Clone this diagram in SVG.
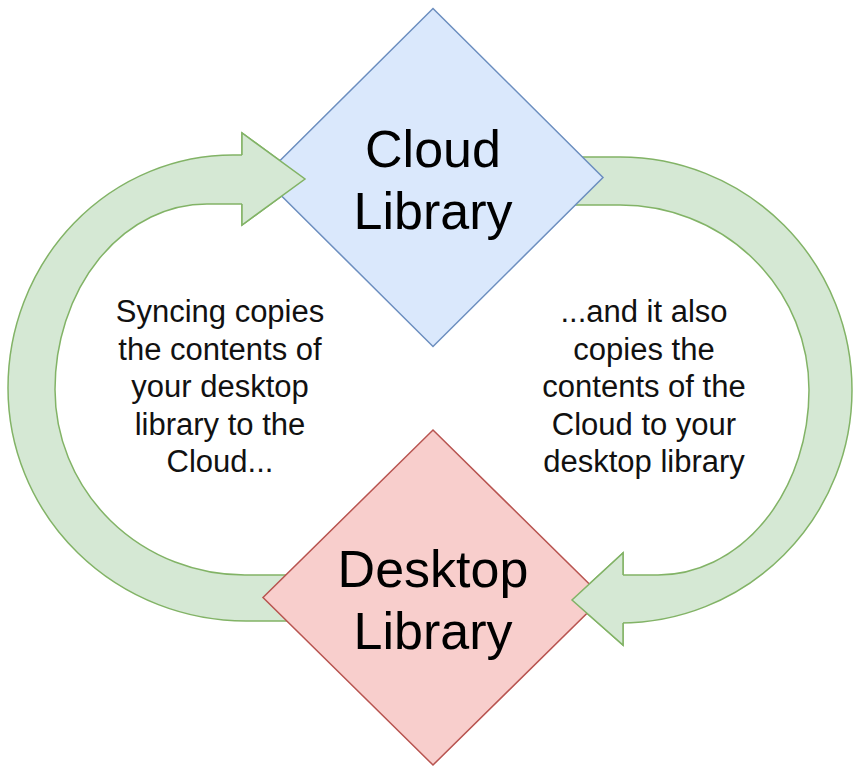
<svg xmlns="http://www.w3.org/2000/svg" width="854" height="768" viewBox="0 0 854 768">
  <style>
    .arrow { fill: #d5e8d4; stroke: #82b366; stroke-width: 1.5; stroke-linejoin: miter; }
    .cloud { fill: #dae8fc; stroke: #6c8ebf; stroke-width: 1.5; }
    .desk { fill: #f8cecc; stroke: #b85450; stroke-width: 1.5; }
    .big { font-family: "Liberation Sans", Arial, Helvetica, sans-serif; font-size: 52px; fill: #000; text-anchor: middle; }
    .note { font-family: "Liberation Sans", Arial, Helvetica, sans-serif; font-size: 31px; fill: #111; text-anchor: middle; }
  </style>
  <rect width="854" height="768" fill="#ffffff"/>
  <g id="connectors">
    <path id="arrow-desktop-to-cloud" class="arrow" d="M300,621 L246,621 A238,233 0 0 1 8,388 A225,233 0 0 1 233,155 L242,155 L242,133 L305,179 L242,225 L242,204 L207,204 A152,185.5 0 0 0 55,389.5 A190,185.5 0 0 0 245,575 L300,575 Z"/>
    <path id="arrow-cloud-to-desktop" class="arrow" d="M560,157 L620,157 A232,233 0 0 1 852,390 A232,233 0 0 1 620,623 L623,623 L623,645 L572,600 L623,553 L623,575 L658,575 A151,185 0 0 0 809,390 A189,185 0 0 0 620,205 L560,205 Z"/>
  </g>
  <g id="node-cloud-library">
    <polygon class="cloud" points="433,8.5 603,177.5 433,346.5 263,177.5"/>
    <text class="big" x="433" y="167">Cloud</text>
    <text class="big" x="433" y="229">Library</text>
  </g>
  <g id="node-desktop-library">
    <polygon class="desk" points="433,430 603,597.5 433,765 263,597.5"/>
    <text class="big" x="433" y="587">Desktop</text>
    <text class="big" x="433" y="649">Library</text>
  </g>
  <g id="connector-heads">
    <path class="arrow" d="M242,155 L242,133 L305,179 L242,225 L242,204"/>
    <path class="arrow" d="M623,575 L623,553 L572,600 L623,645 L623,623"/>
  </g>
  <g id="label-left">
    <text class="note" x="220" y="322">Syncing copies</text>
    <text class="note" x="220" y="359.5">the contents of</text>
    <text class="note" x="220" y="397">your desktop</text>
    <text class="note" x="220" y="434.5">library to the</text>
    <text class="note" x="220" y="472">Cloud...</text>
  </g>
  <g id="label-right">
    <text class="note" x="644" y="322">...and it also</text>
    <text class="note" x="644" y="359.5">copies the</text>
    <text class="note" x="644" y="397">contents of the</text>
    <text class="note" x="644" y="434.5">Cloud to your</text>
    <text class="note" x="644" y="472">desktop library</text>
  </g>
</svg>
